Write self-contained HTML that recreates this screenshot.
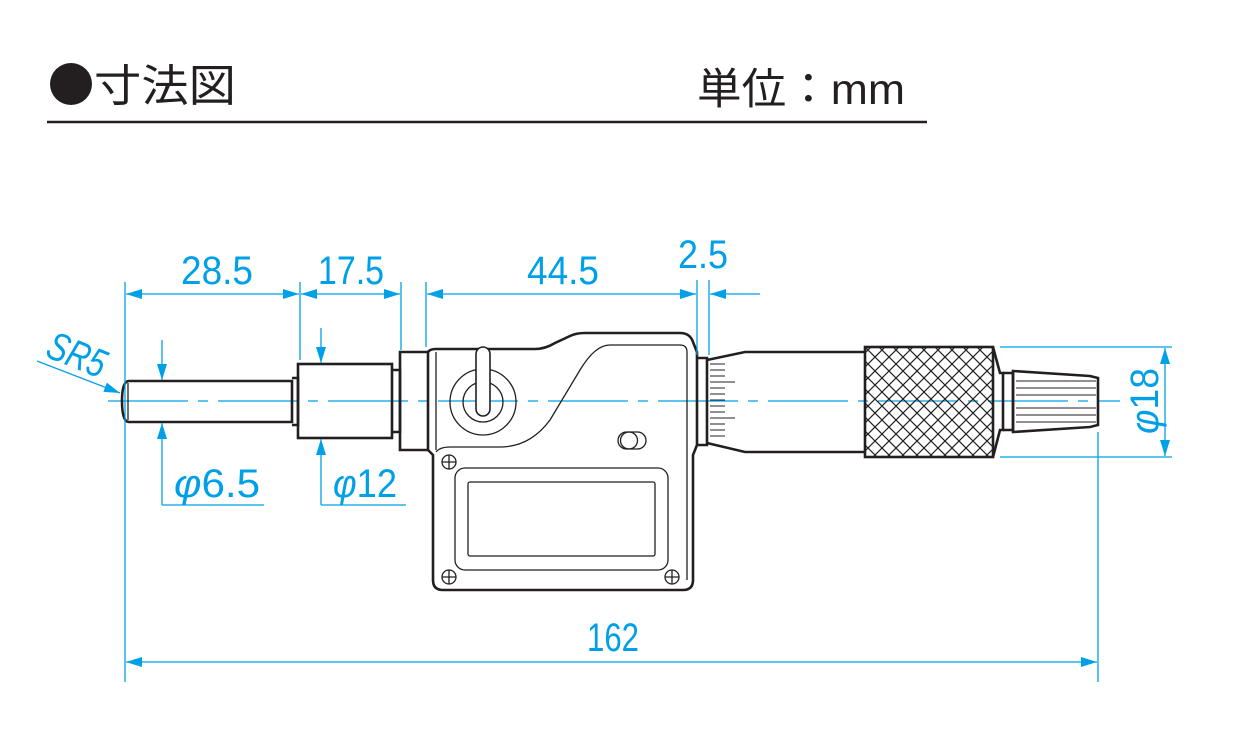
<!DOCTYPE html>
<html><head><meta charset="utf-8">
<style>
html,body{margin:0;padding:0;background:#fff;}
svg{display:block;}
.b{fill:none;stroke:#231f20;stroke-width:2.6;}
.t{fill:none;stroke:#231f20;stroke-width:1.3;}
.c{stroke:#00a0e9;stroke-width:1.3;fill:none;}
.n{fill:#00a0e9;font-family:"Liberation Sans",sans-serif;font-size:40px;}
</style></head><body>
<svg width="1250" height="750" viewBox="0 0 1250 750" xmlns="http://www.w3.org/2000/svg">
<defs>
<pattern id="kn" width="14" height="14" patternUnits="userSpaceOnUse">
<path d="M0 0L14 14M14 0L0 14" stroke="#231f20" stroke-width="1.2"/>
</pattern>
<marker id="a" viewBox="0 0 16 10" refX="16" refY="5" markerWidth="16" markerHeight="10" markerUnits="userSpaceOnUse" orient="auto-start-reverse"><path d="M0 0L16 5L0 10z" fill="#00a0e9"/></marker>
</defs>
<ellipse cx="71" cy="84" rx="21" ry="21" fill="#231f20"/>
<text x="94" y="101" font-family="'Liberation Sans','Noto Sans CJK JP',sans-serif" font-size="44" fill="#231f20" textLength="142" lengthAdjust="spacingAndGlyphs">寸法図</text>
<text x="697" y="104" font-family="'Liberation Sans','Noto Sans CJK JP',sans-serif" font-size="43" fill="#231f20" textLength="208" lengthAdjust="spacingAndGlyphs">単位：mm</text>
<line x1="47" y1="122" x2="927" y2="122" stroke="#231f20" stroke-width="2.5"/>

<line x1="108" y1="401" x2="1120" y2="401" class="c" stroke-dasharray="80 10 10 10"/>

<path class="b" d="M129 381H292V422H129Q122 422 122 401Q122 381 129 381Z"/>
<line class="t" x1="128" y1="383" x2="128" y2="420"/>
<path class="b" d="M292 378H298V425H292"/>
<rect class="b" x="298" y="364" width="94" height="74"/>
<path class="b" d="M392 370H400V432H392"/>
<path class="b" d="M400 352H428V450H400Z"/>
<path class="b" d="M428 352Q430 349 436 349H535Q545 349 555 343L570 336Q576 333 585 333H680Q690 333 693 342L697 352V445L693 455V580Q693 590 683 590H443Q433 590 433 580V455L428 450"/>
<line class="t" x1="436" y1="352" x2="436" y2="450"/>
<path class="t" d="M436 452Q440 447 450 447H500Q530 447 550 420L580 370Q595 345 610 345H680Q687 345 687 352V580"/>
<circle class="t" cx="483" cy="402" r="33"/>
<circle class="t" cx="483" cy="402" r="20"/>
<rect x="476" y="347" width="14" height="69" rx="7" fill="#fff" stroke="#231f20" stroke-width="1.6"/>
<rect class="t" x="618" y="432" width="28" height="17" rx="8.5"/>
<circle class="t" cx="629" cy="440.5" r="8.5"/>
<rect class="t" x="455" y="468" width="213" height="102" rx="10"/>
<rect class="t" x="468" y="482" width="187" height="74" rx="2"/>
<g class="t"><circle cx="449" cy="462" r="7"/><path d="M442 462h14M449 455v14"/>
<circle cx="449" cy="577" r="7"/><path d="M442 577h14M449 570v14"/>
<circle cx="672" cy="577" r="7"/><path d="M665 577h14M672 570v14"/></g>
<path class="b" d="M697 358H707V445H697"/>
<path class="b" d="M707 360L745 352H865M707 443L745 452H865"/>
<g stroke="#231f20" stroke-width="1">
<path d="M710 364h15M710 370h15M710 376h15M710 382h25M710 388h15M710 394h15M710 400h15M710 406h15M710 412h15M710 418h25M710 424h15M710 430h15M710 436h15"/></g>
<rect x="865" y="347" width="128" height="110" fill="url(#kn)" stroke="#231f20" stroke-width="2.6"/>
<path class="b" d="M993 347L1000 373H1003V430H1000L993 457"/>
<path class="b" d="M1003 373H1013V430H1003"/>
<path class="b" d="M1013 371L1090 376L1098 378V425L1090 427L1013 432Z"/>
<g stroke="#231f20" stroke-width="1"><path d="M1016 381h80M1016 388h80M1016 395h80M1016 408h80M1016 415h80M1016 422h80"/></g>

<g class="c">
<line x1="125" y1="282" x2="125" y2="682"/>
<line x1="300" y1="282" x2="300" y2="360"/>
<line x1="401" y1="282" x2="401" y2="350"/>
<line x1="426" y1="282" x2="426" y2="347"/>
<line x1="697" y1="280" x2="697" y2="355"/>
<line x1="709" y1="280" x2="709" y2="355"/>
<line x1="126" y1="294" x2="299" y2="294" marker-start="url(#a)" marker-end="url(#a)"/>
<line x1="301" y1="294" x2="400" y2="294" marker-start="url(#a)" marker-end="url(#a)"/>
<line x1="427" y1="294" x2="696" y2="294" marker-start="url(#a)" marker-end="url(#a)"/>
<line x1="760" y1="294" x2="710" y2="294" marker-end="url(#a)"/>
<line x1="1098" y1="432" x2="1098" y2="682"/>
<line x1="126" y1="662" x2="1097" y2="662" marker-start="url(#a)" marker-end="url(#a)"/>
<line x1="1000" y1="347" x2="1172" y2="347"/>
<line x1="1000" y1="457" x2="1172" y2="457"/>
<line x1="1165" y1="348" x2="1165" y2="456" marker-start="url(#a)" marker-end="url(#a)"/>
<line x1="162" y1="340" x2="162" y2="380" marker-end="url(#a)"/>
<line x1="162" y1="505" x2="162" y2="423" marker-end="url(#a)"/>
<line x1="162" y1="505" x2="264" y2="505"/>
<line x1="321" y1="328" x2="321" y2="363" marker-end="url(#a)"/>
<line x1="321" y1="505" x2="321" y2="439" marker-end="url(#a)"/>
<line x1="321" y1="505" x2="406" y2="505"/>
<line x1="37" y1="361" x2="120" y2="393" marker-end="url(#a)"/>
</g>
<g class="n">
<text x="181" y="284" textLength="72" lengthAdjust="spacingAndGlyphs">28.5</text>
<text x="318" y="284" textLength="66" lengthAdjust="spacingAndGlyphs">17.5</text>
<text x="527" y="284" textLength="72" lengthAdjust="spacingAndGlyphs">44.5</text>
<text x="678" y="268" textLength="50" lengthAdjust="spacingAndGlyphs">2.5</text>
<text x="587" y="651" textLength="52" lengthAdjust="spacingAndGlyphs">162</text>
<text x="174" y="497" textLength="86" lengthAdjust="spacingAndGlyphs"><tspan font-style="italic">φ</tspan>6.5</text>
<text x="333" y="497" textLength="64" lengthAdjust="spacingAndGlyphs"><tspan font-style="italic">φ</tspan>12</text>
<text transform="translate(1158 434) rotate(-90)" textLength="66" lengthAdjust="spacingAndGlyphs"><tspan font-style="italic">φ</tspan>18</text>
<text transform="translate(44 356) rotate(22)" font-style="italic" textLength="60" lengthAdjust="spacingAndGlyphs">SR5</text>
</g>
</svg>
</body></html>
